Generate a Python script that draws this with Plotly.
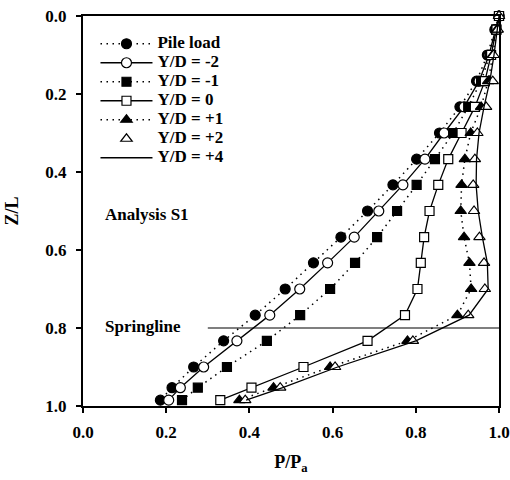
import plotly.graph_objects as go

# ---- data ----
z_over_l = [0.0, 0.035, 0.1, 0.167, 0.233, 0.3, 0.367, 0.433, 0.5, 0.567,
            0.633, 0.7, 0.767, 0.833, 0.9, 0.953, 0.985]
pile_load = [1.0, 0.99, 0.972, 0.946, 0.906, 0.857, 0.802, 0.745, 0.684, 0.620,
             0.554, 0.486, 0.414, 0.338, 0.266, 0.214, 0.186]
yd_m2 = [1.0, 0.992, 0.976, 0.952, 0.916, 0.868, 0.822, 0.769, 0.711, 0.652,
         0.588, 0.521, 0.449, 0.370, 0.290, 0.234, 0.206]
yd_m1 = [1.0, 0.993, 0.978, 0.957, 0.926, 0.890, 0.846, 0.802, 0.755, 0.707,
         0.654, 0.594, 0.522, 0.442, 0.346, 0.276, 0.238]
yd_0 = [1.0, 0.994, 0.981, 0.966, 0.942, 0.910, 0.878, 0.854, 0.833, 0.820,
        0.812, 0.804, 0.774, 0.684, 0.530, 0.405, 0.330]
yd_p1 = [1.0, 0.995, 0.985, 0.974, 0.957, 0.932, 0.918, 0.910, 0.908, 0.916,
         0.929, 0.933, 0.900, 0.780, 0.594, 0.458, 0.376]
yd_p2 = [1.0, 0.997, 0.987, 0.985, 0.969, 0.948, 0.942, 0.938, 0.940, 0.953,
         0.964, 0.966, 0.926, 0.793, 0.606, 0.474, 0.390]
yd_p4 = [1.0, 0.996, 0.988, 0.978, 0.964, 0.952, 0.946, 0.945, 0.950, 0.960,
         0.972, 0.974, 0.928, 0.800, 0.612, 0.480, 0.392]

springline_z = 0.8
springline_x0 = 0.3
x_ticks = [0.0, 0.2, 0.4, 0.6, 0.8, 1.0]
y_ticks = [0.0, 0.2, 0.4, 0.6, 0.8, 1.0]

FONT = "Liberation Serif"
DOT = "1.5px,4.5px"

fig = go.Figure()

def add(name, xs, mode, dash=None, symbol=None, size=10, filled=True, lw=1.3):
    marker = dict(symbol=symbol, size=size,
                  color="black" if filled else "white",
                  line=dict(color="black", width=1.2)) if symbol else None
    fig.add_trace(go.Scatter(
        x=xs, y=z_over_l,
        name=f'<span style="font-size:17px"><b>{name}</b></span>', mode=mode,
        line=dict(color="black", width=lw, dash=dash) if "lines" in mode else None,
        marker=marker, cliponaxis=False))

add("Pile load", pile_load, "lines+markers", dash=DOT, symbol="circle", size=10, filled=True, lw=1.5)
add("Y/D = -2", yd_m2, "lines+markers", dash="solid", symbol="circle", size=10, filled=False)
add("Y/D = -1", yd_m1, "lines+markers", dash=DOT, symbol="square", size=9, filled=True, lw=1.5)
add("Y/D = 0", yd_0, "lines+markers", dash="solid", symbol="square", size=9, filled=False)
add("Y/D = +1", yd_p1, "lines+markers", dash=DOT, symbol="triangle-up", size=10, filled=True, lw=1.5)
add("Y/D = +2", yd_p2, "markers", symbol="triangle-up", size=10, filled=False)
add("Y/D = +4", yd_p4, "lines", dash="solid")

fig.add_shape(type="line", xref="x", yref="y", x0=springline_x0, x1=1.0,
              y0=springline_z, y1=springline_z, line=dict(color="black", width=1.2))

fig.add_annotation(text="<b>Analysis S1</b>", x=0.049, y=0.51, xref="x", yref="y",
                   xanchor="left", yanchor="middle", showarrow=False,
                   font=dict(family=FONT, size=17, color="black"))
fig.add_annotation(text="<b>Springline</b>", x=0.049, y=0.797, xref="x", yref="y",
                   xanchor="left", yanchor="middle", showarrow=False,
                   font=dict(family=FONT, size=17, color="black"))

axis_common = dict(showline=True, linecolor="black", linewidth=2, mirror=True,
                   ticks="outside", ticklen=5, tickwidth=1.5, tickcolor="black",
                   showgrid=False, zeroline=False, automargin=False,
                   tickfont=dict(family=FONT, size=17, color="black"))

fig.update_xaxes(range=[0, 1], tickvals=x_ticks,
                 ticktext=[f"<b>{v:.1f}</b>" for v in x_ticks],
                 ticklabelstandoff=5,
                 title=dict(text="<b>P/P<sub>a</sub></b>", standoff=14,
                            font=dict(family=FONT, size=18, color="black")),
                 **axis_common)
fig.update_yaxes(range=[1, 0], tickvals=y_ticks,
                 ticktext=[f"<b>{v:.1f}</b>" for v in y_ticks],
                 ticklabelstandoff=6,
                 title=dict(text="<b>Z/L</b>", standoff=22,
                            font=dict(family=FONT, size=18, color="black")),
                 **axis_common)

fig.update_layout(
    width=510, height=480,
    margin=dict(l=83, r=11, t=16, b=74),
    plot_bgcolor="white", paper_bgcolor="white",
    font=dict(family=FONT, size=16, color="black"),
    legend=dict(x=0.03, y=0.966, xanchor="left", yanchor="top",
                bgcolor="rgba(0,0,0,0)", borderwidth=0,
                itemwidth=52,
                font=dict(family=FONT, size=11, color="black")),
)

fig.write_html("out.html")
